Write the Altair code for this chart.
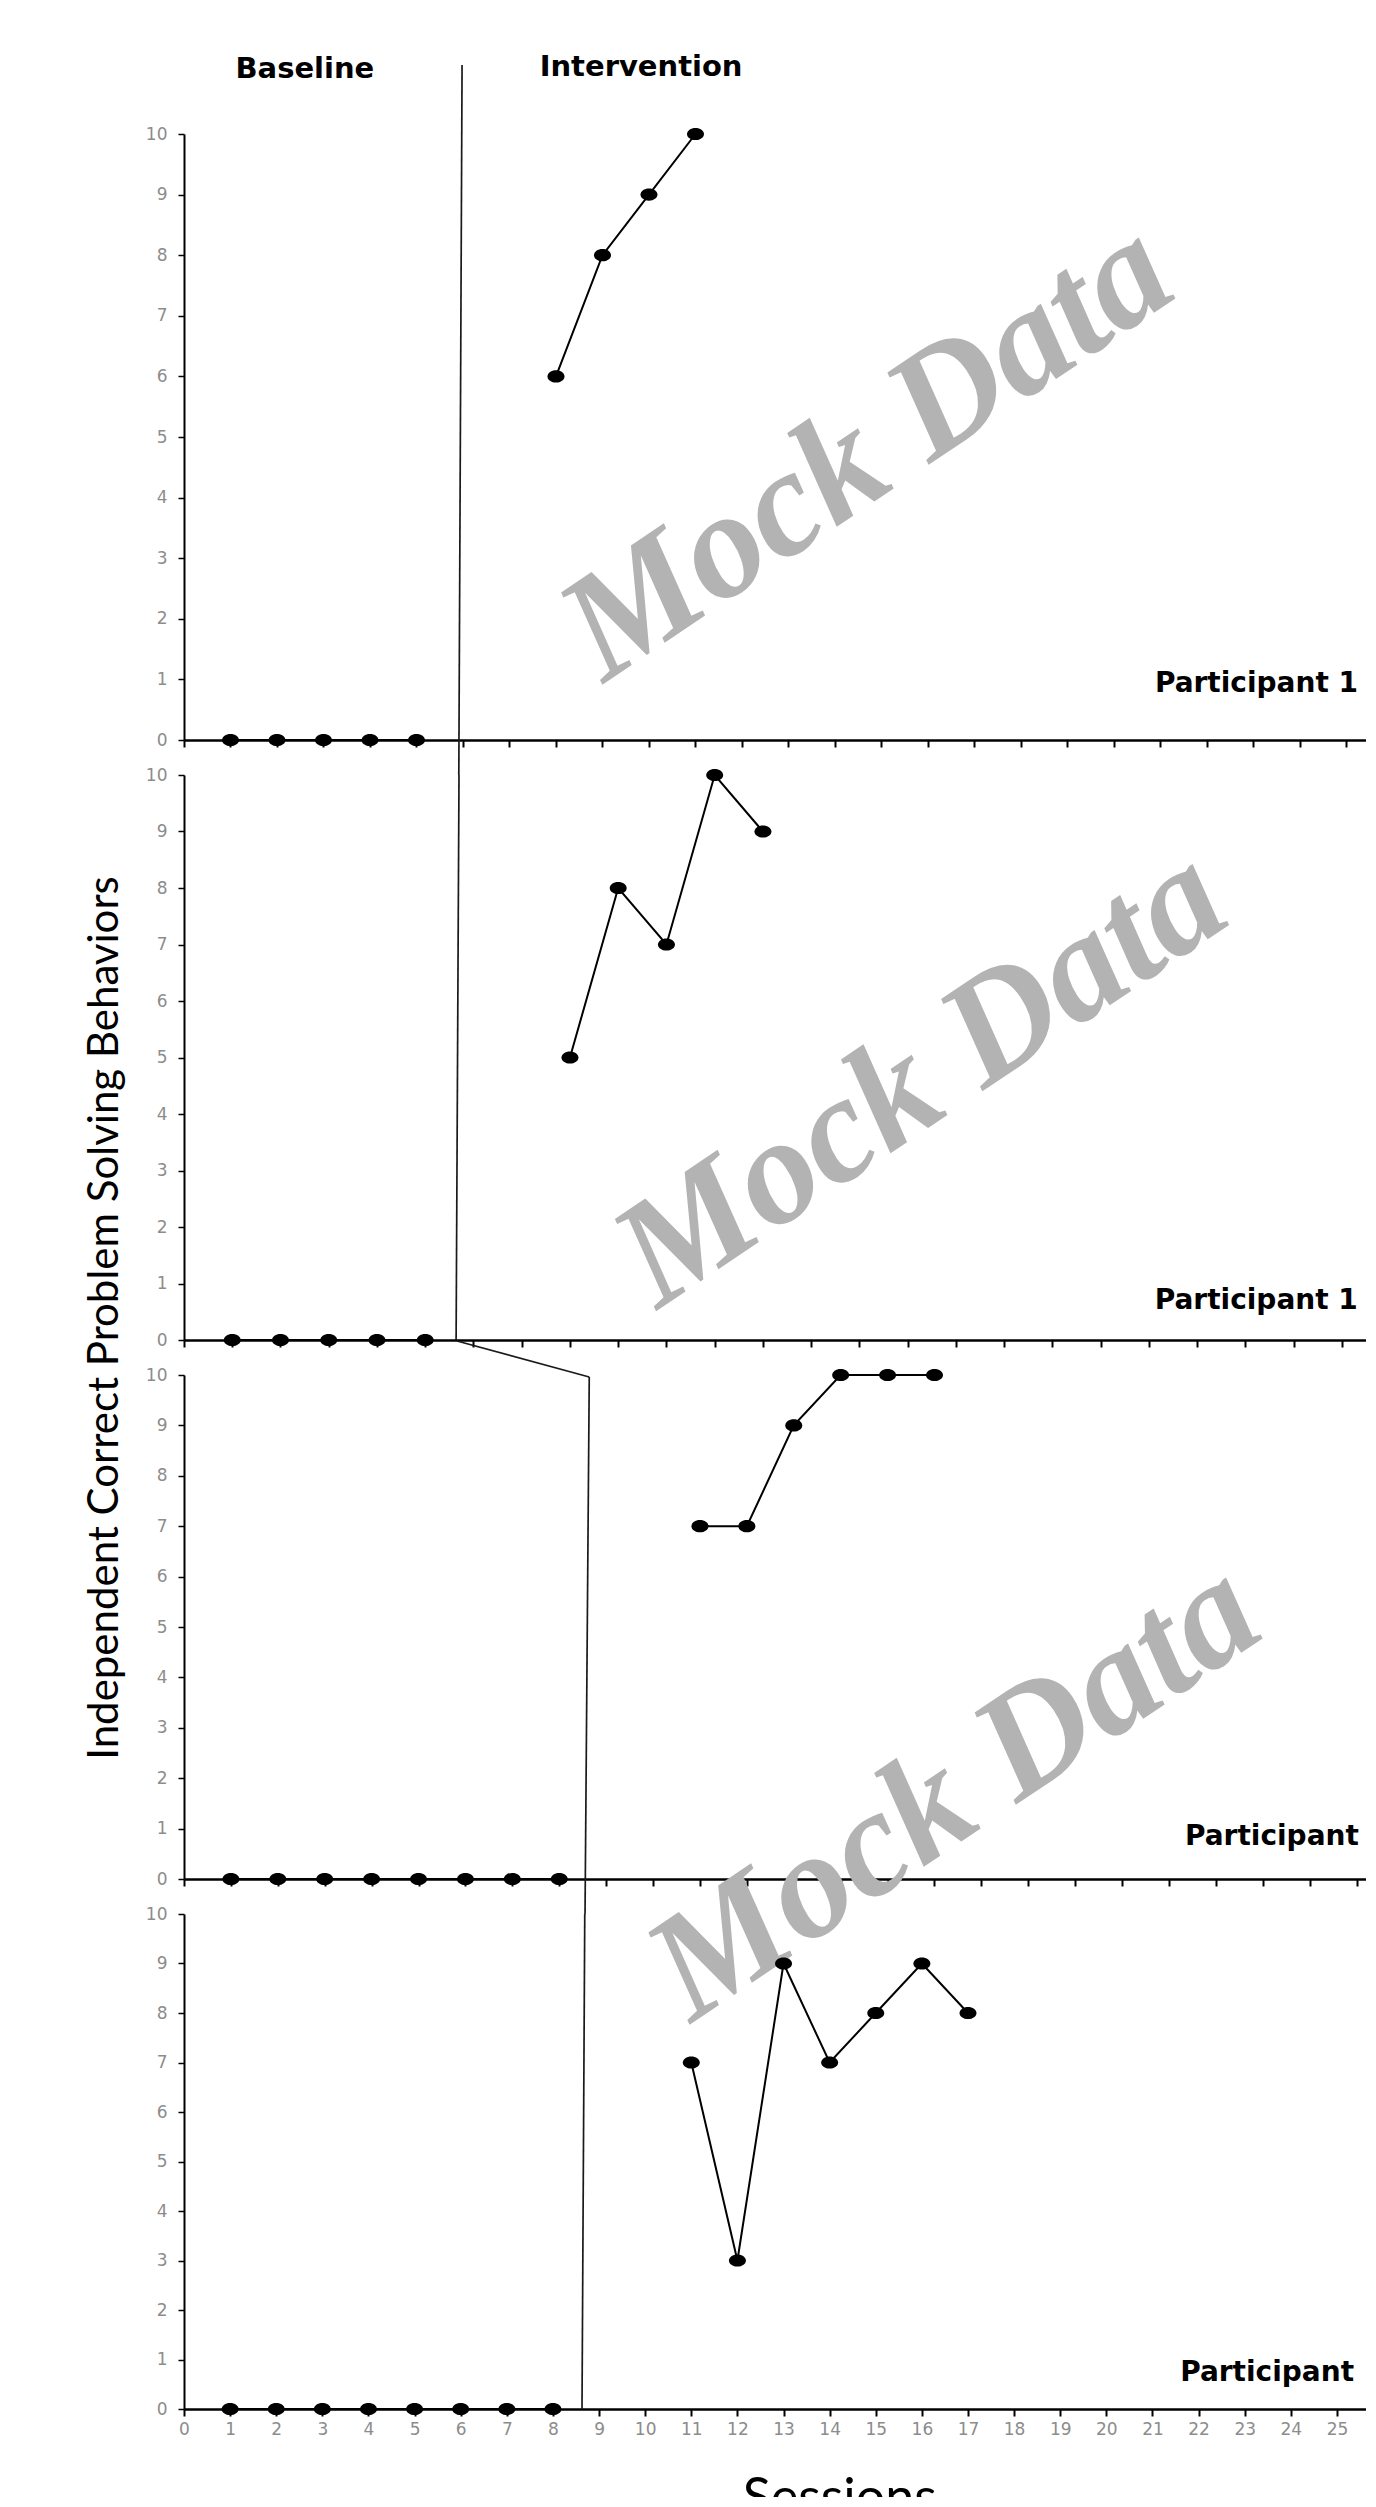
import altair as alt
import pandas as pd

# ---------------- data ----------------
# Participant panels: baseline and intervention sessions / values
p1_base_sessions = [1, 2, 3, 4, 5]
p1_base_values = [0, 0, 0, 0, 0]
p1_int_sessions = [8, 9, 10, 11]
p1_int_values = [6, 8, 9, 10]

p2_base_sessions = [1, 2, 3, 4, 5]
p2_base_values = [0, 0, 0, 0, 0]
p2_int_sessions = [8, 9, 10, 11, 12]
p2_int_values = [5, 8, 7, 10, 9]

p3_base_sessions = [1, 2, 3, 4, 5, 6, 7, 8]
p3_base_values = [0, 0, 0, 0, 0, 0, 0, 0]
p3_int_sessions = [11, 12, 13, 14, 15, 16]
p3_int_values = [7, 7, 9, 10, 10, 10]

p4_base_sessions = [1, 2, 3, 4, 5, 6, 7, 8]
p4_base_values = [0, 0, 0, 0, 0, 0, 0, 0]
p4_int_sessions = [11, 12, 13, 14, 15, 16, 17]
p4_int_values = [7, 3, 9, 7, 8, 9, 8]

y_ticks = list(range(0, 11))
x_ticks = list(range(0, 26))

# phase-change line segments per panel (session, value) -> (session, value)
phase_p1 = [(5.98, 11.14, 5.91, -0.578)]
phase_p2 = [(5.70, 10.0, 5.64, 0.0)]
phase_p3 = [(5.82, 10.675, 8.64, 9.96), (8.64, 9.96, 8.55, -0.694)]
phase_p4 = [(8.69, 10.0, 8.63, 0.0)]

participant_labels = ["Participant 1", "Participant 1", "Participant", "Participant"]
phase_labels = ["Baseline", "Intervention"]
watermark = "Mock Data"
y_title = "Independent Correct Problem Solving Behaviors"
x_title = "Sessions"

# ---------------- layout constants ----------------
W = 1182
heights = [606, 565, 504, 495]
xmax = [25.42, 24.5, 25.2, 25.63]
ELLIPSE = "M-1,0A1,0.72 0 1,0 1,0A1,0.72 0 1,0 -1,0Z"


def enc(i):
    ax_x = alt.Axis(values=x_ticks, title=None, grid=False, domainColor="black",
                    domainWidth=2.5, tickColor="black", tickWidth=2, tickSize=7,
                    labels=(i == 3), labelFont="DejaVu Sans", labelFontSize=17,
                    labelColor="#8c8c8c", labelPadding=5, labelFlush=False,
                    labelOverlap=False, labelBound=False)
    ax_y = alt.Axis(values=y_ticks, title=None, grid=False, domainColor="black",
                    domainWidth=2, tickColor="black", tickWidth=1.5, tickSize=6,
                    labelFont="DejaVu Sans", labelFontSize=17, labelColor="#8c8c8c",
                    labelPadding=11, labelFlush=False, labelOverlap=False)
    x = alt.X("x:Q", scale=alt.Scale(domain=[0, xmax[i]], nice=False, zero=False), axis=ax_x)
    y = alt.Y("y:Q", scale=alt.Scale(domain=[0, 10], nice=False, zero=False), axis=ax_y)
    return x, y


def panel(i, base_s, base_v, int_s, int_v, phase, label, label_pos, wm_pos=None, extra=None):
    x, y = enc(i)
    pts = pd.DataFrame({
        "x": base_s + int_s,
        "y": base_v + int_v,
        "phase": ["b"] * len(base_s) + ["i"] * len(int_s),
    })
    ph = pd.DataFrame(phase, columns=["x", "y", "x2", "y2"])
    lab = pd.DataFrame({"x": [label_pos[0]], "y": [label_pos[1]], "t": [label]})

    layers = []
    if wm_pos is not None:
        wm = pd.DataFrame({"x": [wm_pos[0]], "y": [wm_pos[1]], "t": [watermark]})
        layers.append(
            alt.Chart(wm).mark_text(angle=326, font="Liberation Serif, Times New Roman, serif",
                                    fontStyle="italic", fontWeight="bold", fontSize=152,
                                    color="#b3b3b3", align="center", baseline="middle")
            .encode(x=x, y=y, text="t:N"))
    layers += [
        alt.Chart(ph).mark_rule(color="#1a1a1a", strokeWidth=1.7)
        .encode(x=x, y=y, x2="x2:Q", y2="y2:Q"),
        alt.Chart(pts).mark_line(color="black", strokeWidth=2)
        .encode(x=x, y=y, detail="phase:N"),
        alt.Chart(pts).mark_point(shape=ELLIPSE, filled=True, size=289, color="black",
                                  opacity=1, strokeWidth=0)
        .encode(x=x, y=y),
        alt.Chart(lab).mark_text(font="DejaVu Sans", fontWeight="bold", fontSize=28,
                                 color="black", align="left", baseline="alphabetic",
                                 clip=True)
        .encode(x=x, y=y, text="t:N"),
    ]
    if extra is not None:
        for ex in extra:
            layers.append(ex(x, y))
    return alt.layer(*layers).properties(width=W, height=heights[i])


# extras for panel 1: phase labels and layout anchor
def phase_text(x, y):
    df = pd.DataFrame({"x": [2.60, 9.83], "y": [11.07, 11.1], "t": phase_labels})
    return alt.Chart(df).mark_text(font="DejaVu Sans", fontWeight="bold", fontSize=29,
                                   color="black", align="center", baseline="middle") \
        .encode(x=x, y=y, text="t:N")


def anchor(x, y):
    df = pd.DataFrame({"x": [-3.785], "y": [12.079], "x2": [-3.785], "y2": [11.5]})
    return alt.Chart(df).mark_rule(strokeOpacity=0).encode(x=x, y=y, x2="x2:Q", y2="y2:Q")


def ytitle(x, y):
    df = pd.DataFrame({"x": [-1.637], "y": [0.389], "t": [y_title]})
    return alt.Chart(df).mark_text(font="Lato", fontSize=42, color="black", angle=270,
                                   align="center", baseline="middle") \
        .encode(x=x, y=y, text="t:N")


p1 = panel(0, p1_base_sessions, p1_base_values, p1_int_sessions, p1_int_values,
           phase_p1, participant_labels[0], (20.88, 0.79), (14.69, 4.77),
           extra=[phase_text, anchor])
p2 = panel(1, p2_base_sessions, p2_base_values, p2_int_sessions, p2_int_values,
           phase_p2, participant_labels[1], (20.12, 0.55), (15.27, 4.65),
           extra=[ytitle])
p3 = panel(2, p3_base_sessions, p3_base_values, p3_int_sessions, p3_int_values,
           phase_p3, participant_labels[2], (21.34, 0.67), (16.42, 1.75))
p4 = panel(3, p4_base_sessions, p4_base_values, p4_int_sessions, p4_int_values,
           phase_p4, participant_labels[3], (21.6, 0.57))

sess_df = pd.DataFrame({"x": [14.22], "t": [x_title]})
p5 = alt.Chart(sess_df).mark_text(font="Lato", fontSize=52, color="black",
                                  align="center", baseline="top", clip=True).encode(
    x=alt.X("x:Q", scale=alt.Scale(domain=[0, 25.63], nice=False, zero=False), axis=None),
    y=alt.value(30),
    text="t:N",
).properties(width=W, height=53)

chart = alt.vconcat(p1, p2, p3, p4, p5, spacing=35, bounds="flush").properties(
    padding=0
).configure_view(stroke=None)

chart.save("out.html", embed_options={"renderer": "svg", "actions": False})
